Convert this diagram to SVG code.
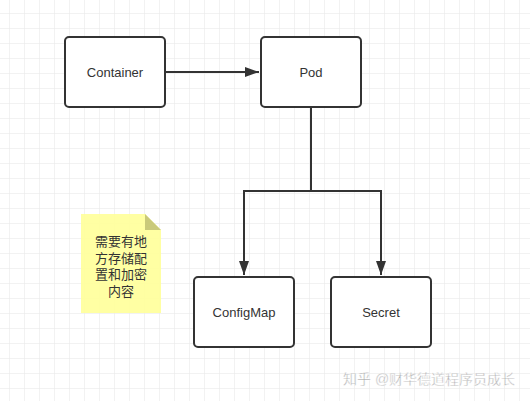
<svg xmlns="http://www.w3.org/2000/svg" width="530" height="401" viewBox="0 0 530 401">
<defs>
<pattern id="grid" x="9" y="13" width="15" height="15" patternUnits="userSpaceOnUse">
<path d="M0 0H15M0 0V15" fill="none" stroke="#e6e6e6" stroke-width="1"/>
</pattern>
<marker id="arr" viewBox="0 0 14 10" refX="14" refY="5" markerWidth="14" markerHeight="10" markerUnits="userSpaceOnUse" orient="auto">
<path d="M0 0L14 5L0 10z" fill="#333"/>
</marker>
<style>
.box{fill:#fff;stroke:#333;stroke-width:2}
.lbl{font-family:"Liberation Sans",Arial,sans-serif;font-size:13px;fill:#333;text-anchor:middle;dominant-baseline:central}
.conn{fill:none;stroke:#333;stroke-width:2}
.note{font-family:"Liberation Sans","Noto Sans CJK SC",sans-serif;font-size:13px;fill:#333;text-anchor:middle}
.wm{font-family:"Liberation Sans","Noto Sans CJK SC",sans-serif;font-size:14px;fill:#aaa;stroke:#fff;stroke-width:0.4}
</style>
</defs>
<rect width="530" height="401" fill="#fff"/>
<rect width="530" height="401" fill="url(#grid)"/>
<g id="connectors">
<path class="conn" d="M165 72H259" marker-end="url(#arr)"/>
<path class="conn" d="M311 107V191H244V275" marker-end="url(#arr)"/>
<path class="conn" d="M311 191H381V275" marker-end="url(#arr)"/>
</g>
<g id="container"><rect class="box" x="65" y="37" width="100" height="70" rx="4"/><text class="lbl" x="115" y="72">Container</text></g>
<g id="pod"><rect class="box" x="261" y="37" width="100" height="70" rx="4"/><text class="lbl" x="311" y="72">Pod</text></g>
<g id="configmap"><rect class="box" x="194" y="277" width="100" height="70" rx="4"/><text class="lbl" x="244" y="312">ConfigMap</text></g>
<g id="secret"><rect class="box" x="331" y="277" width="100" height="70" rx="4"/><text class="lbl" x="381" y="312">Secret</text></g>
<g id="note">
<path d="M81 214H145L161 230V313H81z" fill="#ffff99" fill-opacity="0.9"/>
<path d="M145 214L161 230H145z" fill="#c9c97a"/>
<text class="note"><tspan x="121" y="246">需要有地</tspan><tspan x="121" y="262.5">方存储配</tspan><tspan x="121" y="279">置和加密</tspan><tspan x="121" y="295.5">内容</tspan></text>
</g>
<text class="wm" x="343" y="384">知乎 @财华德道</text>
<text class="wm" x="445" y="384">程序员成长</text>
</svg>
